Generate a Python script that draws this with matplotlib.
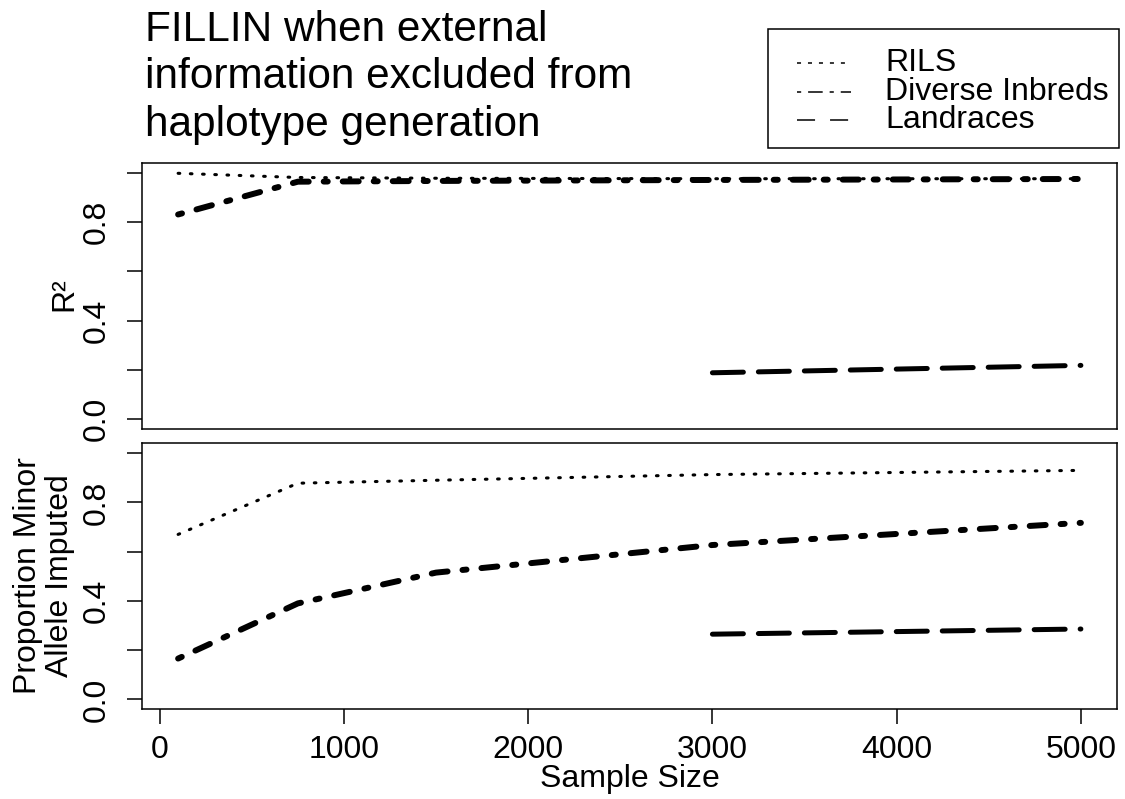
import matplotlib
matplotlib.use('Agg')
import matplotlib.pyplot as plt
import numpy as np
from matplotlib.lines import Line2D
from matplotlib.patches import Rectangle

plt.rcParams['font.family'] = ['Liberation Sans', 'DejaVu Sans']
plt.rcParams['font.size'] = 23
plt.rcParams['lines.scale_dashes'] = False
plt.rcParams['axes.linewidth'] = 1.1

# imputation results by number of samples
sample_size = [100, 750, 1500, 3000, 5000]

r2_rils = [0.997, 0.980, 0.977, 0.975, 0.975]
r2_diverse = [0.830, 0.963, 0.966, 0.970, 0.974]
r2_landraces = [np.nan, np.nan, np.nan, 0.188, 0.218]

minor_rils = [0.670, 0.878, 0.890, 0.913, 0.930]
minor_diverse = [0.166, 0.390, 0.515, 0.627, 0.717]
minor_landraces = [np.nan, np.nan, np.nan, 0.265, 0.286]

group_names = ['RILS', 'Diverse Inbreds', 'Landraces']
y_ticks = [0.0, 0.2, 0.4, 0.6, 0.8, 1.0]
y_tick_labels = ['0.0', '', '0.4', '', '0.8', '']
x_ticks = [0, 1000, 2000, 3000, 4000, 5000]

# line styles: (linewidth, dash pattern) in points
styles = [
    dict(lw=2.2, dashes=(1.2, 7.6)),
    dict(lw=4.3, dashes=(2.9, 10.8, 11.5, 10.8)),
    dict(lw=3.6, dashes=(22.3, 10.8)),
]
legend_styles = [
    dict(lw=1.1, dashes=(2.9, 5.0)),
    dict(lw=1.1, dashes=(3.0, 5.0, 10.5, 5.0)),
    dict(lw=1.1, dashes=(13.0, 10.8)),
]

W, H = 1125, 799
fig = plt.figure(figsize=(W / 100, H / 100), dpi=100)

def box(left, top, right, bottom):
    return [left / W, 1 - bottom / H, (right - left) / W, (bottom - top) / H]

ax1 = fig.add_axes(box(142, 162.7, 1117, 429))
ax2 = fig.add_axes(box(142, 443.3, 1117, 709.3))

def draw_panel(ax, series):
    for vals, st in zip(series, styles):
        line, = ax.plot(sample_size, vals, color='black', lw=st['lw'],
                        solid_capstyle='round', dash_capstyle='round')
        line.set_dashes(st['dashes'])
    ax.set_xlim(-96, 5196)
    ax.set_ylim(-0.04, 1.04)
    ax.set_yticks(y_ticks)
    ax.set_yticklabels(y_tick_labels, rotation=90, va='center')
    ax.set_xticks(x_ticks)
    ax.tick_params(length=10.8, width=1.1, direction='out')
    ax.tick_params(axis='y', pad=11)
    ax.tick_params(axis='x', pad=8)

draw_panel(ax1, [r2_rils, r2_diverse, r2_landraces])
draw_panel(ax2, [minor_rils, minor_diverse, minor_landraces])
ax1.tick_params(axis='x', labelbottom=False, length=0)

fig.text(64 / W, 1 - 294 / H, 'R\u00b2', rotation=90, ha='center', va='center')
fig.text(44 / W, 1 - 576 / H, 'Proportion Minor\nAllele Imputed', rotation=90,
         ha='center', va='center', multialignment='center', linespacing=1.05)
fig.text(629.5 / W, 1 - 779 / H, 'Sample Size', ha='center', va='center')

fig.text(145 / W, 1 - 10 / H,
         'FILLIN when external\ninformation excluded from\nhaplotype generation',
         ha='left', va='top', fontsize=30.5, linespacing=1.24)

# legend box in the top right corner
fig.add_artist(Rectangle((768 / W, 1 - 148 / H), (1119 - 768) / W, (148 - 29) / H,
                         transform=fig.transFigure, fill=False, lw=1.1, ec='black'))
for i, (name, st) in enumerate(zip(group_names, legend_styles)):
    yc = 1 - (63 + 28.5 * i) / H
    ln = Line2D([797 / W, 851 / W], [yc, yc], transform=fig.transFigure,
                color='black', lw=st['lw'])
    ln.set_dashes(st['dashes'])
    fig.add_artist(ln)
    fig.text(885 / W, yc, name, ha='left', va='center')

fig.savefig('out.png', dpi=100)
